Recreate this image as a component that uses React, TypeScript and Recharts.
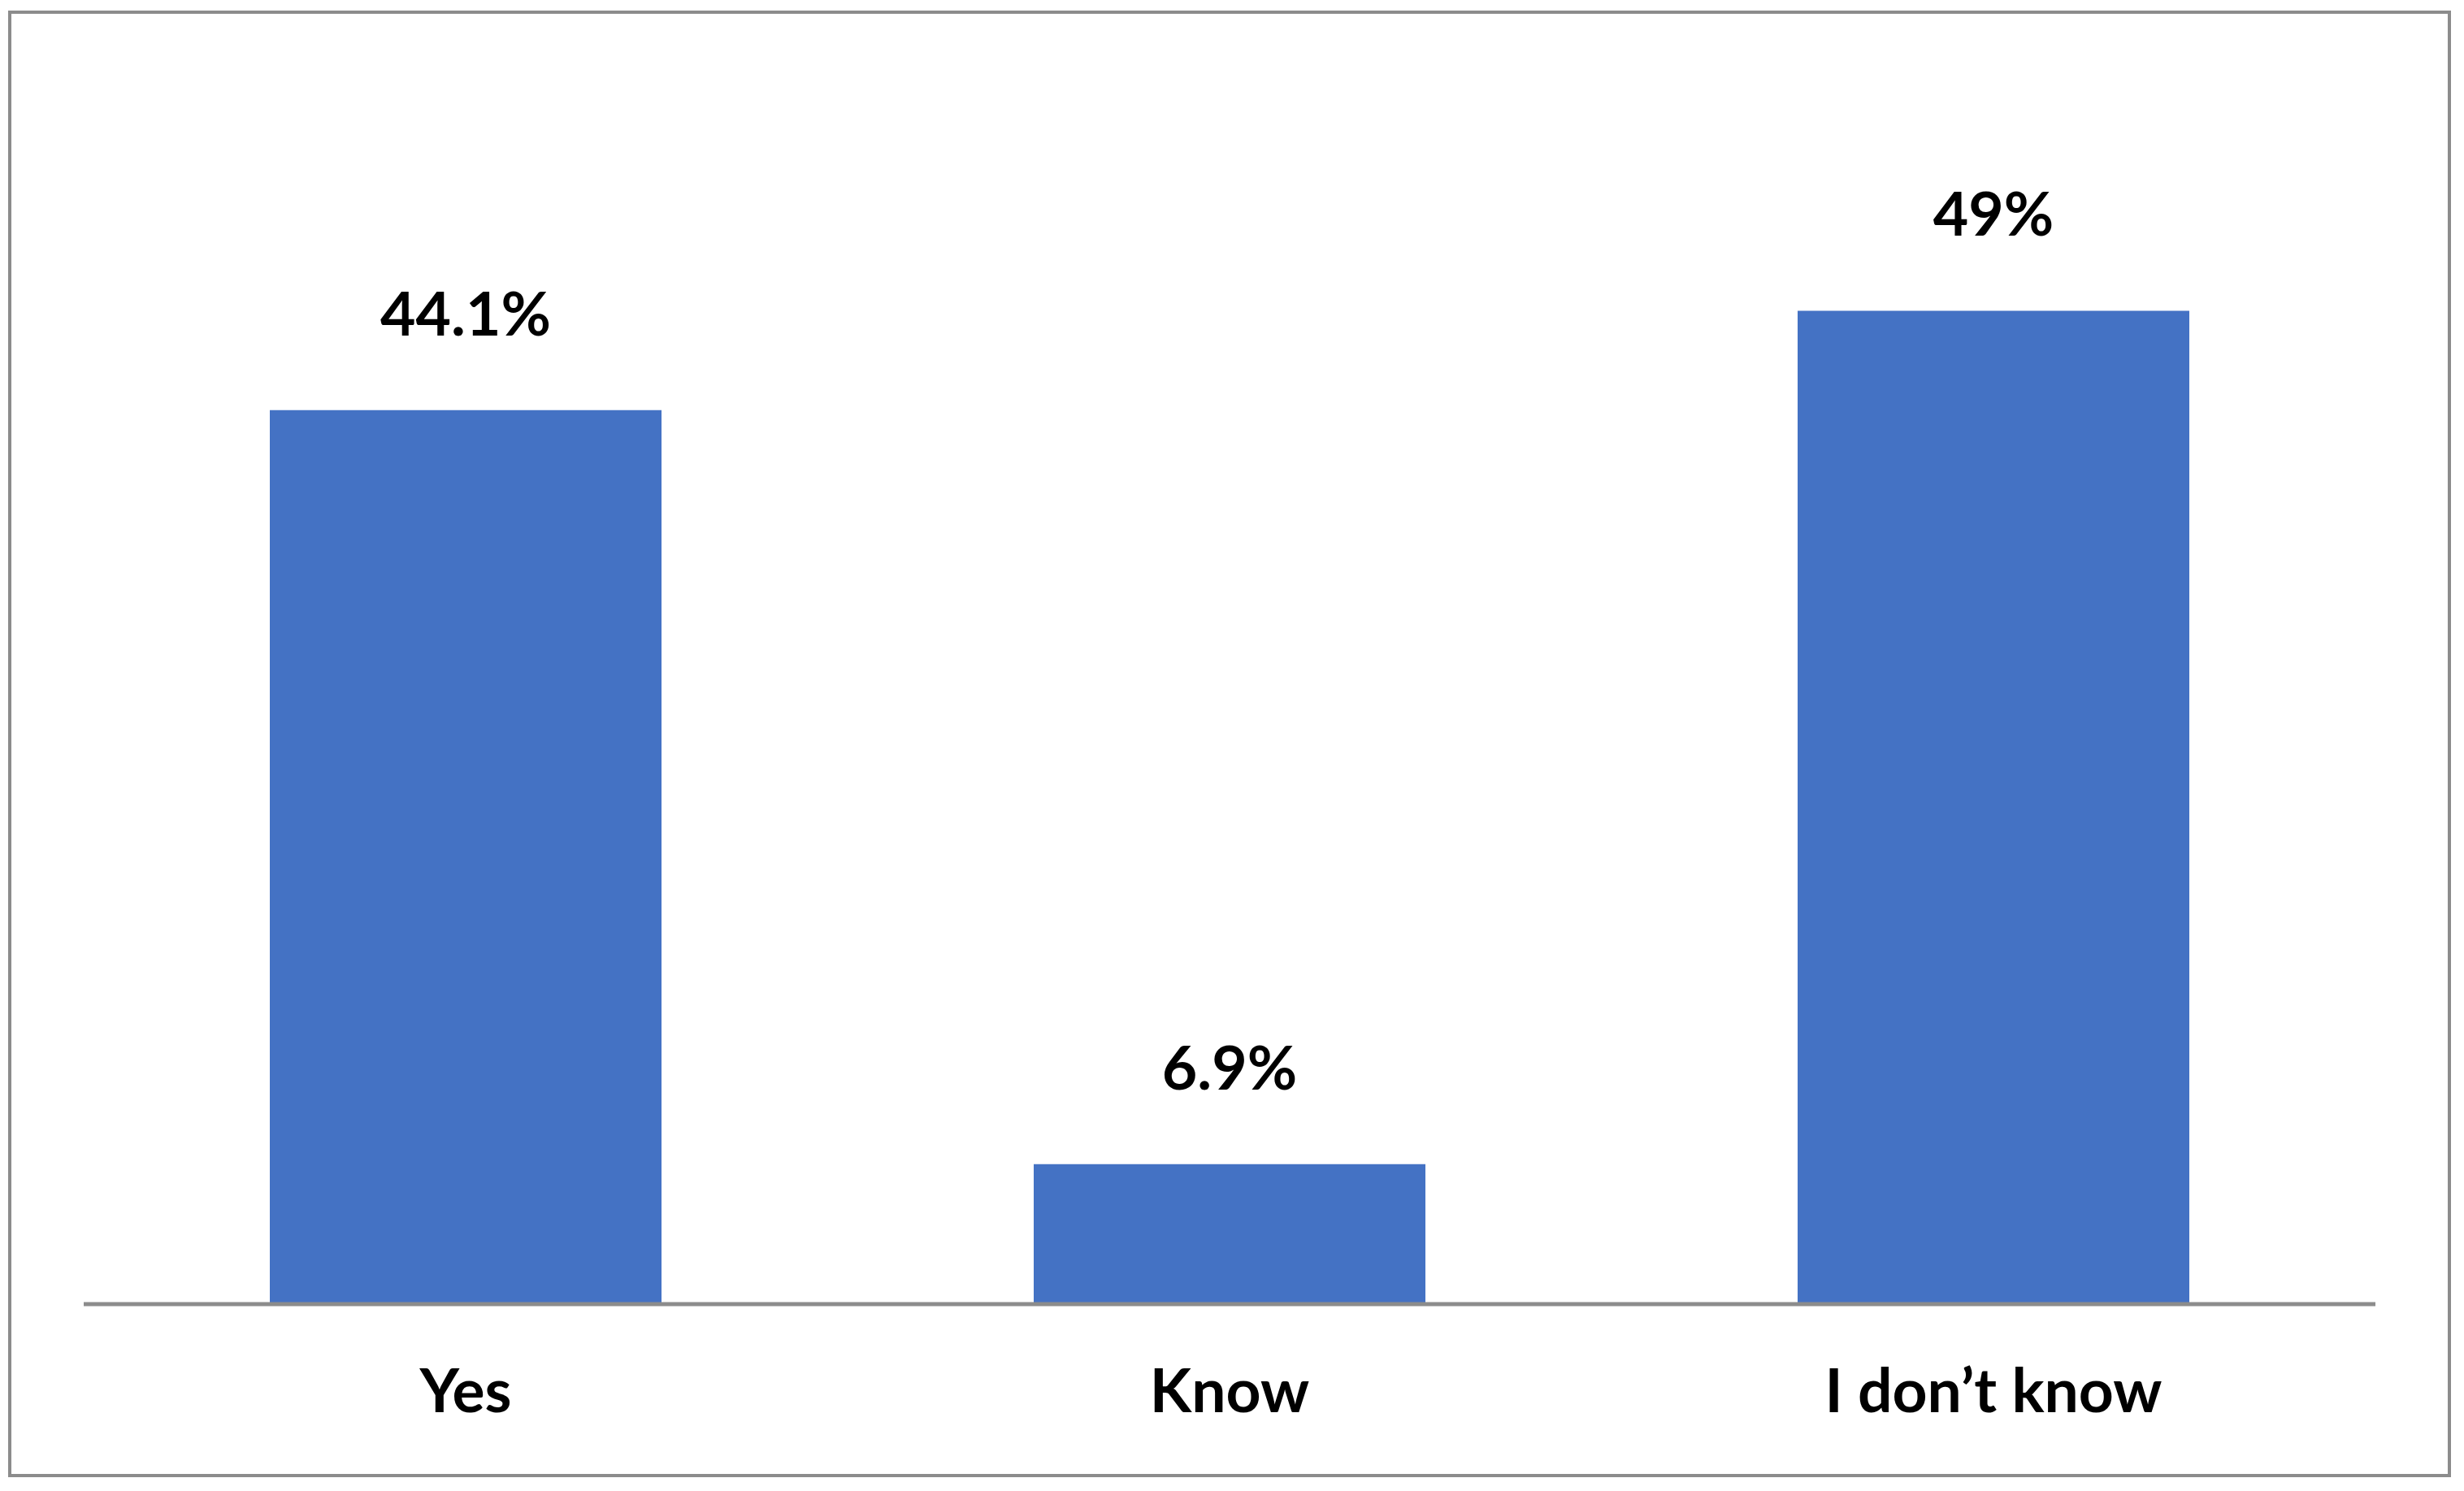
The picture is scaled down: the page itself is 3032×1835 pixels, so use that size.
import { BarChart, Bar, XAxis, YAxis, LabelList } from 'recharts';

const categories = ['Yes', 'Know', 'I don’t know'];
const shares = [44.1, 6.9, 49];

const data = categories.map((name, i) => ({ name, value: shares[i] }));

const font = { fontFamily: 'Lato, "Open Sans", sans-serif', fontWeight: 700, fontSize: 75, fill: '#000' };

export default function App() {
  return (
    <div style={{ position: 'absolute', left: 0, top: 0, width: 3032, height: 1835, background: '#fff' }}>
      <div
        style={{
          position: 'absolute',
          left: 10,
          top: 13,
          width: 3006,
          height: 1805,
          border: '4px solid #8c8c8c',
          boxSizing: 'border-box',
        }}
      />
      <div style={{ position: 'absolute', left: 0, top: 0 }}>
        <BarChart width={3032} height={1835} data={data} margin={{ top: 108, right: 109, bottom: 80, left: 103 }}>
          <XAxis
            dataKey="name"
            height={150}
            tickLine={false}
            tickSize={0}
            tickMargin={80}
            axisLine={{ stroke: '#8c8c8c', strokeWidth: 5 }}
            tick={font}
          />
          <YAxis hide domain={[0, 60]} />
          <Bar dataKey="value" fill="#4472C4" barSize={482} isAnimationActive={false}>
            <LabelList dataKey="value" position="top" offset={92} formatter={(v: number) => `${v}%`} style={font} />
          </Bar>
        </BarChart>
      </div>
    </div>
  );
}
